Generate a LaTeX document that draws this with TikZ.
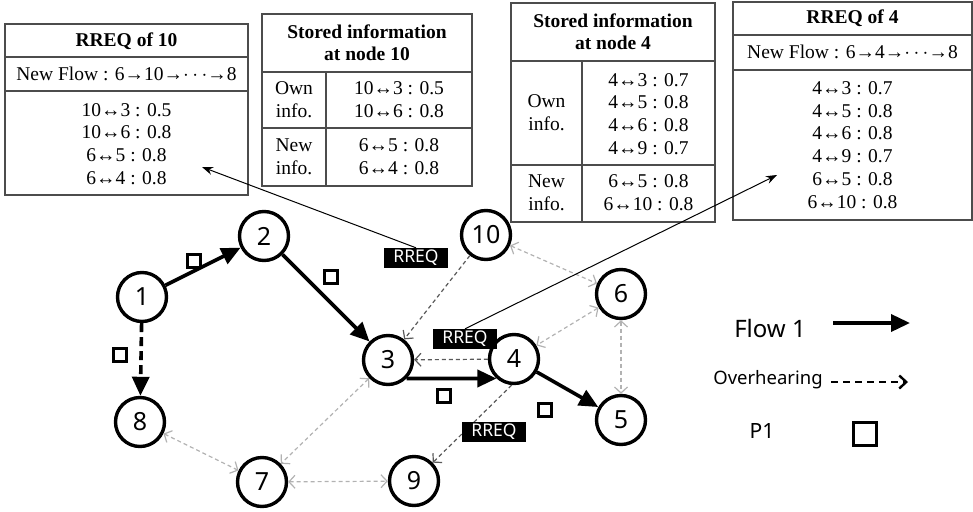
\documentclass[tikz,border=0pt]{standalone}
\usepackage{fontspec}
\setmainfont{Liberation Serif}
\newfontfamily\nfont{Noto Sans}
\usetikzlibrary{arrows.meta}
\begin{document}
\begin{tikzpicture}[x=1pt,y=-1pt,
  tbl/.style={draw=black!70, line width=1.6pt},
  tx/.style={font=\fontsize{19.5}{22.8}\selectfont, align=center, inner sep=0},
  hd/.style={font=\fontsize{19.5}{22}\selectfont\bfseries, align=center, inner sep=0},
  nd/.style={circle, draw, line width=3.4pt, minimum size=49pt, inner sep=0, font=\nfont\fontsize{25}{25}\selectfont},
  flow/.style={line width=3.6pt, -{Triangle[length=19pt,width=17pt]}},
  ovh/.style={gray!60, line width=1.2pt, dash pattern=on 4pt off 3pt, {Straight Barb[length=6pt,width=13pt]}-{Straight Barb[length=6pt,width=13pt]}},
  ovd/.style={black!65, line width=1.2pt, dash pattern=on 4pt off 3pt, -{Straight Barb[length=6pt,width=13pt]}},
  rreq/.style={fill=black, text=white, font=\nfont\fontsize{17.5}{17.5}\selectfont, minimum width=64pt, minimum height=20pt, inner sep=0},
  pkt/.style={draw, line width=2.2pt, minimum size=13pt, inner sep=0},
  ptr/.style={line width=1pt, -{Stealth[length=11pt,width=8pt]}}]
\useasboundingbox (0,0) rectangle (973,511);

% ---- Table 1: RREQ of 10
\draw[tbl] (5,24) rectangle (248,195);
\draw[tbl] (5,57) -- (248,57);
\draw[tbl] (5,91) -- (248,91);
\node[hd] (t1h) at (126.5,41) {RREQ of 10};
\node[tx] (t1f) at (126.5,74) {New Flow : 6→10→$\cdots$→8};
\node[tx] (t1d) at (126.5,144) {10↔3 : 0.5\\10↔6 : 0.8\\6↔5 : 0.8\\6↔4 : 0.8};
\coordinate (t1p) at (202,167);

% ---- Table 2: stored at node 10
\draw[tbl] (262,14) rectangle (472,186);
\draw[tbl] (262,72) -- (472,72);
\draw[tbl] (262,128) -- (472,128);
\draw[tbl] (326,72) -- (326,186);
\node[hd] (t2h) at (367,43) {Stored information\\at node 10};
\node[tx] (t2a) at (294,100) {Own\\info.};
\node[tx] (t2b) at (399,100) {10↔3 : 0.5\\10↔6 : 0.8};
\node[tx] (t2c) at (294,157) {New\\info.};
\node[tx] (t2d) at (399,157) {6↔5 : 0.8\\6↔4 : 0.8};

% ---- Table 3: stored at node 4
\draw[tbl] (511,3) rectangle (715,222);
\draw[tbl] (511,61) -- (715,61);
\draw[tbl] (511,165) -- (715,165);
\draw[tbl] (582,61) -- (582,222);
\node[hd] (t3h) at (613,32) {Stored information\\at node 4};
\node[tx] (t3a) at (546.5,113) {Own\\info.};
\node[tx] (t3b) at (648.5,114) {4↔3 : 0.7\\4↔5 : 0.8\\4↔6 : 0.8\\4↔9 : 0.7};
\node[tx] (t3c) at (546.5,193) {New\\info.};
\node[tx] (t3d) at (648.5,193) {6↔5 : 0.8\\6↔10 : 0.8};

% ---- Table 4: RREQ of 4
\draw[tbl] (733,2) rectangle (972,220);
\draw[tbl] (733,35) -- (972,35);
\draw[tbl] (733,70) -- (972,70);
\node[hd] (t4h) at (852.5,18) {RREQ of 4};
\node[tx] (t4f) at (852.5,52) {New Flow : 6→4→$\cdots$→8};
\node[tx] (t4d) at (852.5,145) {4↔3 : 0.7\\4↔5 : 0.8\\4↔6 : 0.8\\4↔9 : 0.7\\6↔5 : 0.8\\6↔10 : 0.8};
\coordinate (t4p) at (777,175);

% ---- Nodes
\node[nd] (n1) at (142,297) {1};
\node[nd] (n2) at (264,236) {2};
\node[nd, font=\nfont\bfseries\fontsize{25}{25}\selectfont] (n3) at (388,360) {3};
\node[nd] (n4) at (514,359) {4};
\node[nd] (n5) at (621,420) {5};
\node[nd] (n6) at (621,294) {6};
\node[nd] (n7) at (262,482) {7};
\node[nd] (n8) at (140,422) {8};
\node[nd] (n9) at (414,481) {9};
\node[nd] (n10) at (486,235) {10};

% ---- Overhearing edges
\draw[ovh] (n10) -- (n6);
\draw[ovh] (n6) -- (n4);
\draw[ovh] (n6) -- (n5);
\draw[ovh] (n3) -- (n7);
\draw[ovh] (n8) -- (n7);
\draw[ovh] (n7) -- (n9);
\draw[ovd] (n10) -- (n3);
\draw[ovd] (n4) -- (n3);
\draw[ovd] (n4.265) -- (n9);

% ---- Flow edges
\draw[flow] (n1) -- (n2);
\draw[flow] (n2) -- (n3);
\draw[flow] (n3.-45) -- (n4.228);
\draw[flow] (n4) -- (n5);
\draw[flow, dash pattern=on 9pt off 5pt] (n1) -- (n8);

% ---- Packets
\node[pkt] (p1) at (194,261) {};
\node[pkt] (p2) at (331,277) {};
\node[pkt] (p3) at (120,355) {};
\node[pkt] (p4) at (444,396) {};
\node[pkt] (p5) at (545,410) {};

% ---- RREQ labels
\node[rreq] (r1) at (416,258) {RREQ};
\node[rreq] (r2) at (465,339) {RREQ};
\node[rreq] (r3) at (494,432) {RREQ};
\draw[ptr] (r1.north) -- (t1p);
\draw[ptr] (r2.north) -- (t4p);

% ---- Legend
\node[font=\nfont\fontsize{24}{24}\selectfont] (lf) at (770,328) {Flow 1};
\coordinate (lfa) at (833,323);
\coordinate (lfb) at (910,323);
\draw[flow] (lfa) -- (lfb);
\node[font=\nfont\fontsize{18.5}{18.5}\selectfont] (lo) at (768,380) {Overhearing};
\coordinate (loa) at (831,382);
\coordinate (lob) at (908,382);
\draw[line width=2.4pt, dash pattern=on 7pt off 5pt, -{Straight Barb[length=7pt,width=13pt]}] (loa) -- (lob);
\node[font=\nfont\fontsize{21}{21}\selectfont] (lp) at (762,431) {P1};
\node[pkt, minimum size=23pt, line width=2.6pt] (lq) at (865,434) {};
\end{tikzpicture}
\end{document}
